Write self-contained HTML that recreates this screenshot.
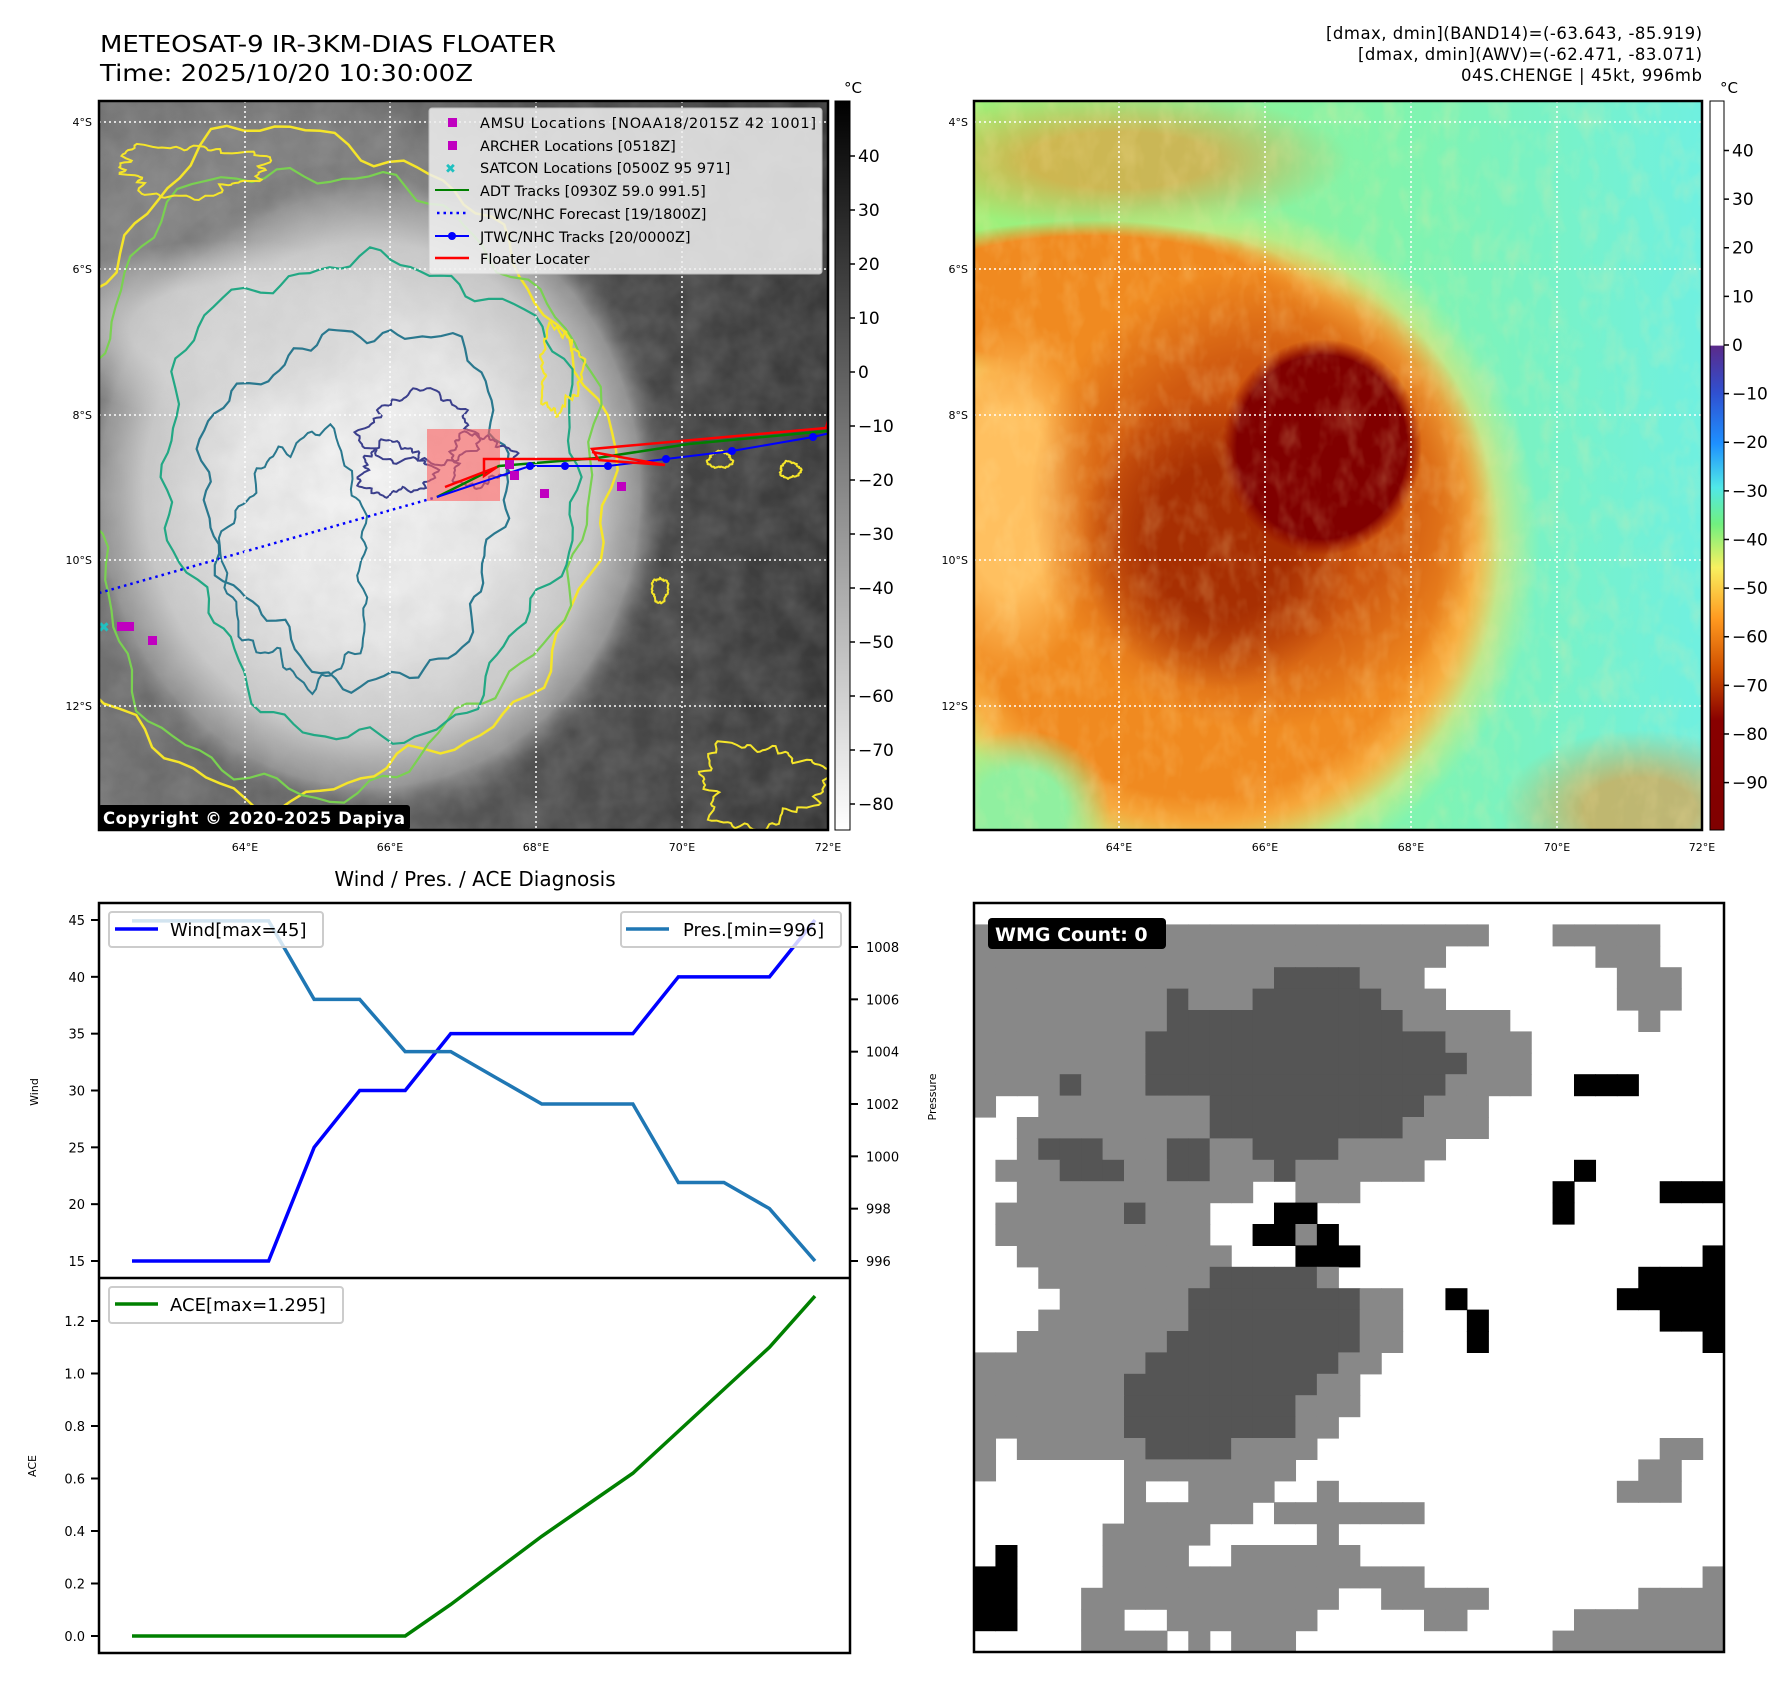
<!DOCTYPE html>
<html><head><meta charset="utf-8"><style>
html,body{margin:0;padding:0;background:#fff}
svg{display:block;font-family:"DejaVu Sans","Liberation Sans",sans-serif}
</style></head><body>
<svg id="root" width="1792" height="1690" viewBox="0 0 1792 1690" xmlns="http://www.w3.org/2000/svg">
<defs>
<clipPath id="clipL"><rect x="99" y="101" width="729" height="729"/></clipPath>
<clipPath id="clipR"><rect x="974" y="101" width="728" height="729"/></clipPath>
<filter id="noise" x="0" y="0" width="100%" height="100%"><feTurbulence type="fractalNoise" baseFrequency="0.035" numOctaves="3" seed="4"/><feColorMatrix type="matrix" values="0 0 0 0 0.5 0 0 0 0 0.5 0 0 0 0 0.5 0 0 0 0.9 -0.2"/></filter>
<filter id="noiseHot" x="0" y="0" width="100%" height="100%"><feTurbulence type="fractalNoise" baseFrequency="0.05 0.03" numOctaves="3" seed="9"/><feColorMatrix type="matrix" values="0 0 0 0 1 0 0 0 0 0.8 0 0 0 0 0.35 0 0 0 1.6 -0.7"/></filter>
<radialGradient id="greyBlob" cx="0.5" cy="0.5" r="0.5"><stop offset="0" stop-color="#f4f4f4"/><stop offset="0.45" stop-color="#e8e8e8"/><stop offset="0.75" stop-color="#c8c8c8"/><stop offset="0.9" stop-color="#909090"/><stop offset="1" stop-color="#606060" stop-opacity="0"/></radialGradient>
<radialGradient id="sGrey"><stop offset="0" stop-color="#8a8a8a"/><stop offset="0.6" stop-color="#8a8a8a"/><stop offset="1" stop-color="#8a8a8a" stop-opacity="0"/></radialGradient>
<radialGradient id="sLight"><stop offset="0" stop-color="#d8d8d8"/><stop offset="0.5" stop-color="#d8d8d8"/><stop offset="1" stop-color="#d8d8d8" stop-opacity="0"/></radialGradient>
<radialGradient id="sYel"><stop offset="0" stop-color="#ffd060"/><stop offset="0.8" stop-color="#ffd060"/><stop offset="1" stop-color="#e8f070" stop-opacity="0"/></radialGradient>
<radialGradient id="sOr"><stop offset="0" stop-color="#f08a20"/><stop offset="0.8" stop-color="#f08a20"/><stop offset="1" stop-color="#f08a20" stop-opacity="0"/></radialGradient>
<radialGradient id="sLt"><stop offset="0" stop-color="#ffc060"/><stop offset="0.5" stop-color="#ffc060"/><stop offset="1" stop-color="#ffc060" stop-opacity="0"/></radialGradient>
<radialGradient id="sDk"><stop offset="0" stop-color="#c84a08"/><stop offset="0.6" stop-color="#d05a10"/><stop offset="1" stop-color="#d05a10" stop-opacity="0"/></radialGradient>
<radialGradient id="sBr"><stop offset="0" stop-color="#a02800"/><stop offset="0.5" stop-color="#a02800"/><stop offset="1" stop-color="#a02800" stop-opacity="0"/></radialGradient>
<radialGradient id="sRed"><stop offset="0" stop-color="#800000"/><stop offset="0.85" stop-color="#800000"/><stop offset="1" stop-color="#900800" stop-opacity="0"/></radialGradient>
<radialGradient id="sGrn"><stop offset="0" stop-color="#90f0a0"/><stop offset="0.5" stop-color="#90f0a0"/><stop offset="1" stop-color="#90f0a0" stop-opacity="0"/></radialGradient>
<radialGradient id="sOr2"><stop offset="0" stop-color="#f09030"/><stop offset="0.4" stop-color="#f09030"/><stop offset="1" stop-color="#f09030" stop-opacity="0"/></radialGradient>
<linearGradient id="greyBg" x1="0" y1="0" x2="1" y2="0"><stop offset="0" stop-color="#707070"/><stop offset="0.5" stop-color="#555"/><stop offset="1" stop-color="#383838"/></linearGradient>
<linearGradient id="cyanBg" x1="0" y1="0" x2="1" y2="0"><stop offset="0" stop-color="#9ef078"/><stop offset="0.6" stop-color="#80f4b0"/><stop offset="1" stop-color="#70f0e0"/></linearGradient>
<linearGradient id="cbGrey" x1="0" y1="0" x2="0" y2="1"><stop offset="0" stop-color="#000"/><stop offset="1" stop-color="#fff"/></linearGradient>
<linearGradient id="cbJet" x1="0" y1="0" x2="0" y2="1"><stop offset="0" stop-color="#ffffff"/><stop offset="0.335" stop-color="#ffffff"/><stop offset="0.336" stop-color="#5a2a8a"/><stop offset="0.40" stop-color="#3050d0"/><stop offset="0.47" stop-color="#1e90ff"/><stop offset="0.53" stop-color="#50e8e8"/><stop offset="0.58" stop-color="#70f080"/><stop offset="0.64" stop-color="#f8f060"/><stop offset="0.71" stop-color="#ff9a20"/><stop offset="0.78" stop-color="#d05000"/><stop offset="0.85" stop-color="#880000"/><stop offset="1" stop-color="#800000"/></linearGradient>
</defs>

<!-- Titles -->
<text x="100" y="52" font-size="23.5" textLength="456" lengthAdjust="spacingAndGlyphs">METEOSAT-9 IR-3KM-DIAS FLOATER</text>
<text x="100" y="81" font-size="23.5" textLength="373" lengthAdjust="spacingAndGlyphs">Time: 2025/10/20 10:30:00Z</text>
<g font-size="16.5" text-anchor="end">
<text x="1702" y="39" textLength="376">[dmax, dmin](BAND14)=(-63.643, -85.919)</text>
<text x="1702" y="60" textLength="344">[dmax, dmin](AWV)=(-62.471, -83.071)</text>
<text x="1702" y="81" textLength="241">04S.CHENGE | 45kt, 996mb</text>
</g>

<!-- LEFT MAP -->
<g clip-path="url(#clipL)">
<rect x="99" y="101" width="729" height="729" fill="url(#greyBg)"/>
<ellipse cx="300" cy="230" rx="300" ry="170" fill="url(#sGrey)" opacity="0.7"/>
<ellipse cx="370" cy="490" rx="300" ry="330" fill="url(#greyBlob)"/>
<ellipse cx="230" cy="330" rx="200" ry="90" fill="url(#sLight)" opacity="0.8"/>
<rect x="99" y="101" width="729" height="729" filter="url(#noise)" opacity="0.35"/>
<g id="contours" fill="none"></g>
<line x1="99" y1="593" x2="437" y2="497" stroke="#0000ff" stroke-width="2.5" stroke-dasharray="2.5,4"/>
<rect x="427" y="429" width="73" height="72" fill="#ff6060" opacity="0.6"/>
<polyline points="437,497 499,466 597,458 689,444 827,431" fill="none" stroke="#008000" stroke-width="2.5"/>
<polyline points="437,497 530,466 565,466 608,466 666,459 732,451 813,437 830,433" fill="none" stroke="#0000ff" stroke-width="2"/>
<g fill="#0000ff"><circle cx="530" cy="466" r="4"/><circle cx="565" cy="466" r="4"/><circle cx="608" cy="466" r="4"/><circle cx="666" cy="459" r="4"/><circle cx="732" cy="451" r="4"/><circle cx="813" cy="437" r="4"/></g>
<polyline points="445,487 497,467 484,476 484,459 598,459 592,449 826,428 828,421" fill="none" stroke="#ff0000" stroke-width="2.5"/>
<polyline points="592,452 665,465 598,460" fill="none" stroke="#ff0000" stroke-width="2.5"/>
<g fill="#c000c0"><rect x="505" y="460" width="9" height="9"/><rect x="510" y="471" width="9" height="9"/><rect x="540" y="489" width="9" height="9"/><rect x="617" y="482" width="9" height="9"/><rect x="117" y="622" width="9" height="9"/><rect x="125" y="622" width="9" height="9"/><rect x="148" y="636" width="9" height="9"/></g>
<text x="98" y="632" fill="#20c0c0" font-size="14" font-weight="bold">✖</text>
<g stroke="#fff" stroke-width="1.5" stroke-dasharray="2,3">
<line x1="245" y1="101" x2="245" y2="830"/><line x1="390" y1="101" x2="390" y2="830"/><line x1="536" y1="101" x2="536" y2="830"/><line x1="682" y1="101" x2="682" y2="830"/>
<line x1="99" y1="122" x2="828" y2="122"/><line x1="99" y1="269" x2="828" y2="269"/><line x1="99" y1="415" x2="828" y2="415"/><line x1="99" y1="560" x2="828" y2="560"/><line x1="99" y1="706" x2="828" y2="706"/>
</g>
</g>
<rect x="99" y="101" width="729" height="729" fill="none" stroke="#000" stroke-width="2.5"/>
<!-- legend -->
<g>
<rect x="429" y="108" width="393" height="166" rx="3" fill="#f0f0f0" opacity="0.85" stroke="#ccc"/>
<g font-size="14.5">
<rect x="448" y="118" width="9" height="9" fill="#c000c0"/><text x="480" y="128" textLength="336">AMSU Locations [NOAA18/2015Z 42 1001]</text>
<rect x="448" y="141" width="9" height="9" fill="#c000c0"/><text x="480" y="151">ARCHER Locations [0518Z]</text>
<text x="445" y="173" fill="#20c0c0" font-size="13" font-weight="bold">✖</text><text x="480" y="173">SATCON Locations [0500Z 95 971]</text>
<line x1="435" y1="190" x2="469" y2="190" stroke="#008000" stroke-width="2"/><text x="480" y="196">ADT Tracks [0930Z 59.0 991.5]</text>
<line x1="437" y1="213" x2="469" y2="213" stroke="#0000ff" stroke-width="2.5" stroke-dasharray="2.5,4"/><text x="480" y="219">JTWC/NHC Forecast [19/1800Z]</text>
<line x1="435" y1="236" x2="469" y2="236" stroke="#0000ff" stroke-width="2"/><circle cx="452" cy="236" r="4" fill="#0000ff"/><text x="480" y="242">JTWC/NHC Tracks [20/0000Z]</text>
<line x1="435" y1="258" x2="469" y2="258" stroke="#ff0000" stroke-width="2.5"/><text x="480" y="264">Floater Locater</text>
</g></g>
<rect x="98" y="805" width="312" height="25" rx="3" fill="#000"/>
<text x="103" y="824" fill="#fff" font-size="16.5" font-weight="bold" textLength="302">Copyright © 2020-2025 Dapiya</text>
<g font-size="11" text-anchor="end">
<text x="92" y="126">4°S</text><text x="92" y="273">6°S</text><text x="92" y="419">8°S</text><text x="92" y="564">10°S</text><text x="92" y="710">12°S</text></g>
<g font-size="11" text-anchor="middle">
<text x="245" y="851">64°E</text><text x="390" y="851">66°E</text><text x="536" y="851">68°E</text><text x="682" y="851">70°E</text><text x="828" y="851">72°E</text></g>
<rect x="835" y="101" width="15" height="729" fill="url(#cbGrey)" stroke="#000" stroke-width="1"/>
<text x="844" y="93" font-size="15">°C</text>
<g id="cbLeftTicks" font-size="17"></g>

<!-- RIGHT MAP -->
<g clip-path="url(#clipR)">
<rect x="974" y="101" width="728" height="729" fill="url(#cyanBg)"/>
<ellipse cx="1120" cy="160" rx="230" ry="70" fill="url(#sOr2)" opacity="0.6"/>
<ellipse cx="1200" cy="545" rx="340" ry="345" fill="url(#sYel)"/>
<ellipse cx="1200" cy="545" rx="300" ry="315" fill="url(#sOr)"/>
<ellipse cx="1090" cy="300" rx="230" ry="80" fill="url(#sOr)"/>
<ellipse cx="1010" cy="500" rx="90" ry="180" fill="url(#sLt)"/>
<ellipse cx="1260" cy="500" rx="230" ry="230" fill="url(#sDk)"/>
<ellipse cx="1220" cy="540" rx="140" ry="150" fill="url(#sBr)" opacity="0.85"/>
<ellipse cx="1322" cy="447" rx="100" ry="108" fill="url(#sRed)"/>
<ellipse cx="1020" cy="810" rx="90" ry="80" fill="url(#sGrn)"/>
<ellipse cx="1640" cy="810" rx="140" ry="80" fill="url(#sOr2)" opacity="0.6"/>
<rect x="974" y="101" width="728" height="729" filter="url(#noiseHot)" opacity="0.3"/>
<g stroke="#fff" stroke-width="1.5" stroke-dasharray="2,3">
<line x1="1119" y1="101" x2="1119" y2="830"/><line x1="1265" y1="101" x2="1265" y2="830"/><line x1="1411" y1="101" x2="1411" y2="830"/><line x1="1557" y1="101" x2="1557" y2="830"/>
<line x1="974" y1="122" x2="1702" y2="122"/><line x1="974" y1="269" x2="1702" y2="269"/><line x1="974" y1="415" x2="1702" y2="415"/><line x1="974" y1="560" x2="1702" y2="560"/><line x1="974" y1="706" x2="1702" y2="706"/>
</g></g>
<rect x="974" y="101" width="728" height="729" fill="none" stroke="#000" stroke-width="2.5"/>
<g font-size="11" text-anchor="end">
<text x="968" y="126">4°S</text><text x="968" y="273">6°S</text><text x="968" y="419">8°S</text><text x="968" y="564">10°S</text><text x="968" y="710">12°S</text></g>
<g font-size="11" text-anchor="middle">
<text x="1119" y="851">64°E</text><text x="1265" y="851">66°E</text><text x="1411" y="851">68°E</text><text x="1557" y="851">70°E</text><text x="1702" y="851">72°E</text></g>
<rect x="1710" y="101" width="14" height="729" fill="url(#cbJet)" stroke="#000" stroke-width="1"/>
<text x="1720" y="93" font-size="15">°C</text>
<g id="cbRightTicks" font-size="17"></g>

<!-- BOTTOM LEFT CHART -->
<text x="475" y="886" font-size="20" text-anchor="middle">Wind / Pres. / ACE Diagnosis</text>
<g id="chart"></g>
<rect x="99" y="903" width="751" height="750" fill="none" stroke="#000" stroke-width="2.5"/>
<line x1="99" y1="1278" x2="850" y2="1278" stroke="#000" stroke-width="2.5"/>
<text transform="translate(38,1092) rotate(-90)" font-size="11" text-anchor="middle">Wind</text>
<text transform="translate(936,1097) rotate(-90)" font-size="11" text-anchor="middle">Pressure</text>
<text transform="translate(36,1466) rotate(-90)" font-size="11" text-anchor="middle">ACE</text>
<g><rect x="109" y="912" width="214" height="35" rx="3" fill="#fff" fill-opacity="0.8" stroke="#ccc" stroke-width="2"/><line x1="115" y1="929" x2="158" y2="929" stroke="#0000ff" stroke-width="3.5"/><text x="170" y="936" font-size="18">Wind[max=45]</text></g>
<g><rect x="621" y="912" width="220" height="35" rx="3" fill="#fff" fill-opacity="0.8" stroke="#ccc" stroke-width="2"/><line x1="626" y1="929" x2="669" y2="929" stroke="#1f77b4" stroke-width="3.5"/><text x="683" y="936" font-size="18">Pres.[min=996]</text></g>
<g><rect x="109" y="1287" width="234" height="36" rx="3" fill="#fff" fill-opacity="0.8" stroke="#ccc" stroke-width="2"/><line x1="115" y1="1304" x2="158" y2="1304" stroke="#008000" stroke-width="3.5"/><text x="170" y="1311" font-size="18">ACE[max=1.295]</text></g>

<!-- BOTTOM RIGHT WMG -->
<g id="wmg"></g>
<rect x="974" y="903" width="750" height="749" fill="none" stroke="#000" stroke-width="2.5"/>
<rect x="988" y="918" width="178" height="31" rx="4" fill="#000"/>
<text x="995" y="941" fill="#fff" font-size="19" font-weight="bold">WMG Count: 0</text>
</svg>
<script>
// ----- chart data -----
const steps = [0,1,2,3,4,5,6,7,8,9,10,11,12,13,14,15];
const windVals = [15,15,15,15,25,30,30,35,35,35,35,35,40,40,40,45];
const presVals = [1009,1009,1009,1009,1006,1006,1004,1004,1003,1002,1002,1002,999,999,998,996];
const aceVals = [0,0,0,0,0,0,0,0.12,0.25,0.38,0.5,0.62,0.78,0.94,1.1,1.295];
const windTicks = [15,20,25,30,35,40,45];
const presTicks = [996,998,1000,1002,1004,1006,1008];
const aceTicks = [0,0.2,0.4,0.6,0.8,1.0,1.2];
const cbLeftTicks = [40,30,20,10,0,-10,-20,-30,-40,-50,-60,-70,-80];
const cbRightTicks = [40,30,20,10,0,-10,-20,-30,-40,-50,-60,-70,-80,-90];
const wmgRows = [
"...................................",
"gggggggggggggggggggggggg...ggggg...",
"gggggggggggggggggggggg.......ggg...",
"ggggggggggggggddddggg.........ggg..",
"gggggggggdgggddddddggg........ggg..",
"gggggggggdddddddddddggggg......g...",
"ggggggggddddddddddddddgggg.........",
"ggggggggdddddddddddddddggg.........",
"ggggdgggddddddddddddddgggg..kkk....",
"g..ggggggggddddddddddggg...........",
"..gggggggggdddddddddgggg...........",
"..gdddgggddggddddggggg.............",
".gggdddggddgggdgggggg.......k......",
"..ggggggggggg..ggg.........k....kkk",
".ggggggdggg...kk...........k.......",
".gggggggggg..kkgk..................",
"..gggggggggg...kkk................k",
"...ggggggggdddddg..............kkkk",
"....ggggggddddddddgg..k.......kkkkk",
"...gggggggddddddddgg...k........kkk",
"..gggggggdddddddddgg...k..........k",
"ggggggggdddddddddgg................",
"gggggggdddddddddgg.................",
"gggggggddddddddggg.................",
"gggggggddddddddgg..................",
"g.ggggggddddgggg................gg.",
"g......gggggggg................gg..",
".......g..gggg..g.............ggg..",
".......gggggg.ggggggg..............",
"......ggggg.....g..................",
".k....gggg..gggggg.................",
"kk....ggggggggggggggg.............g",
"kk...gggggggggggg..ggggg.......gggg",
"kk...gg..ggggggg.....gg.....ggggggg",
".....gggg.g.ggg............gggggggg"];
const NS='http://www.w3.org/2000/svg';
function mk(tag, attrs, parent){const e=document.createElementNS(NS,tag);for(const k in attrs)e.setAttribute(k,attrs[k]);parent.appendChild(e);return e;}

// axis functions
const xS = i => 132 + i*(815-132)/15;
const windY = v => 1261 - (v-15)*(1261-920)/30;
const presY = v => 1261 - (v-996)*(1261-947)/12;
const aceY = v => 1636 - v*(1636-1321)/1.2;
const cbLY = v => 156 + (40-v)*(804-156)/120;
const cbRY = v => 150.5 + (40-v)*(782.6-150.5)/130;

const chart=document.getElementById('chart');
function ticks(list, yf, x, side, fmt){
  list.forEach(v=>{
    const y=yf(v);
    const t=mk('line',{x1:side<0?x-8:x,x2:side<0?x:x+8,y1:y,y2:y,stroke:'#000','stroke-width':2},chart);
    
    
    const l=mk('text',{x:side<0?x-14:x+16,y:y+5,'font-size':13,'text-anchor':side<0?'end':'start'},chart);
    
    
    l.textContent=fmt(v);
  });
}
ticks(windTicks, windY, 99, -1, v=>String(v));
ticks(presTicks, presY, 850, 1, v=>String(v));
ticks(aceTicks, aceY, 99, -1, v=>v.toFixed(1));
function series(vals, yf, color, name){
  const p=mk('polyline',{points:steps.map(i=>xS(i)+','+yf(vals[i])).join(' '),fill:'none',stroke:color,'stroke-width':3.5},chart);
  
  
}
series(windVals, windY, '#0000ff', 'wind-line');
series(presVals, presY, '#1f77b4', 'pressure-line');
series(aceVals, aceY, '#008000', 'ace-line');

// colorbar ticks
function cbTicks(id, list, yf, x){
  const g=document.getElementById(id);
  list.forEach(v=>{
    const y=yf(v);
    mk('line',{x1:x,x2:x+5,y1:y,y2:y,stroke:'#000','stroke-width':1.5},g);
    const t=mk('text',{x:x+8,y:y+6},g);
    
    
    t.textContent=(v<0?'\u2212'+(-v):String(v));
  });
}
cbTicks('cbLeftTicks', cbLeftTicks, cbLY, 850);
cbTicks('cbRightTicks', cbRightTicks, cbRY, 1724);

// WMG grid
const wmg=document.getElementById('wmg');
const colors={g:'#888888',d:'#555555',k:'#000000'};
const cw=750/35, ch=749/35;
wmgRows.forEach((row,r)=>{
  for(let c=0;c<35;c++){
    const ch2=row[c];
    if(colors[ch2]){
      const cell=mk('rect',{x:(974+c*cw).toFixed(2),y:(903+r*ch).toFixed(2),width:(cw+0.6).toFixed(2),height:(ch+0.6).toFixed(2),fill:colors[ch2]},wmg);
      
      
    }
  }
});

// decorative contours on IR map
const cg=document.getElementById('contours');
function blob(cx,cy,rx,ry,seed,amp){
  let d='';
  for(let k=0;k<=120;k++){
    const t=k/120*Math.PI*2;
    const f=1+amp*(0.5*Math.sin(3*t+seed)+0.3*Math.sin(7*t+2*seed)+0.2*Math.sin(17*t+3*seed)+0.12*Math.sin(29*t+seed));
    d+=(k?'L':'M')+(cx+rx*f*Math.cos(t)).toFixed(1)+','+(cy+ry*f*Math.sin(t)).toFixed(1);
  }
  return d+'Z';
}
const contourSpecs=[
 [320,470,275,330,1.0,0.10,'#f5e52a',2.5],
 [330,475,255,310,2.0,0.10,'#7ad151',2.2],
 [370,490,205,240,3.0,0.12,'#22a884',2.2],
 [360,500,150,175,4.0,0.15,'#2a788e',2.2],
 [300,560,70,120,5.0,0.2,'#2a788e',2],
 [420,430,55,35,6.0,0.25,'#3b3f8c',2],
 [395,470,35,25,7.0,0.3,'#3b3f8c',2],
 [480,460,30,25,8.0,0.3,'#3b3f8c',2],
 [560,370,20,40,1.5,0.3,'#f5e52a',2.2],
 [190,170,70,25,2.5,0.3,'#f5e52a',2],
 [720,460,12,8,0,0.2,'#f5e52a',2],
 [790,470,10,8,1,0.2,'#f5e52a',2],
 [760,785,60,40,2,0.3,'#f5e52a',2],
 [660,590,8,12,3,0.2,'#f5e52a',2]
];
contourSpecs.forEach(s=>{
  const p=mk('path',{d:blob(s[0],s[1],s[2],s[3],s[4],s[5]),stroke:s[6],'stroke-width':s[7]},cg);
  
  
});
</script>
</body></html>
